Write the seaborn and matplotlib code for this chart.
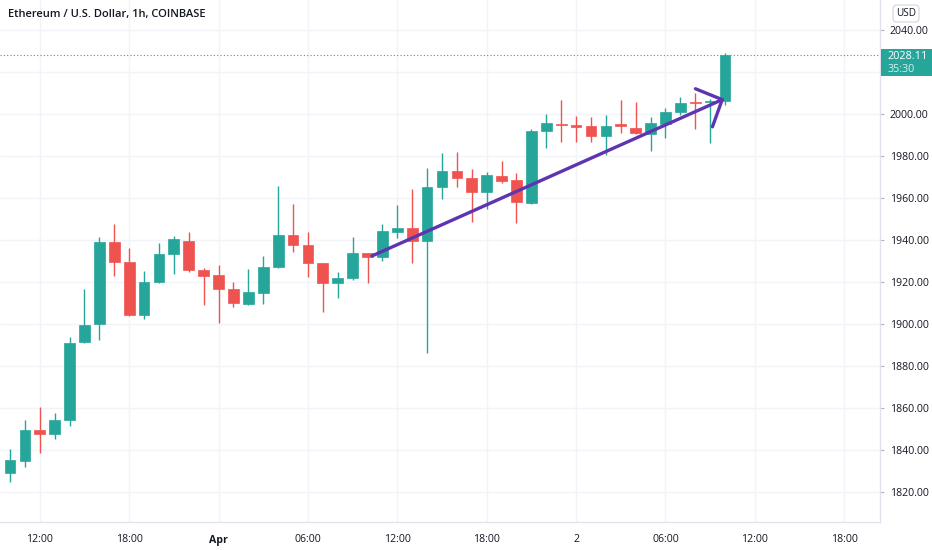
import numpy as np
import pandas as pd
import matplotlib
matplotlib.use("Agg")
import matplotlib.pyplot as plt
import seaborn as sns
from matplotlib.patches import FancyBboxPatch

# ---------------- data ----------------
title = "Ethereum / U.S. Dollar, 1h, COINBASE"
opens = [1829.2, 1834.9, 1849.5, 1847.6, 1854.3, 1891.3, 1899.9, 1939.2, 1929.7, 1904.3,
         1919.9, 1933.3, 1939.7, 1925.7, 1923.3, 1916.7, 1909.5, 1914.9, 1927.0, 1942.4,
         1937.6, 1928.9, 1919.4, 1921.9, 1933.8, 1932.0, 1943.8, 1945.9, 1939.7, 1965.1,
         1973.0, 1969.4, 1963.0, 1970.6, 1968.6, 1957.8, 1992.0, 1995.3, 1994.8, 1994.3,
         1989.7, 1995.1, 1993.2, 1990.5, 1995.2, 2001.1, 2005.7, 2005.6, 2006.2]
highs = [1840.3, 1854.3, 1860.6, 1857.5, 1893.7, 1916.5, 1941.3, 1947.6, 1936.0, 1925.4,
         1938.7, 1941.9, 1944.0, 1926.5, 1928.1, 1920.1, 1926.0, 1932.4, 1965.7, 1957.1,
         1943.7, 1929.0, 1924.9, 1941.3, 1934.0, 1947.6, 1956.7, 1964.3, 1974.1, 1981.6,
         1982.0, 1973.7, 1972.5, 1977.8, 1972.0, 1992.7, 2000.0, 2006.7, 1999.0, 1998.4,
         1999.5, 2006.7, 2005.7, 1998.7, 2002.7, 2008.0, 2009.9, 2007.0, 2028.9]
lows = [1824.9, 1831.8, 1838.7, 1845.1, 1851.6, 1891.0, 1892.4, 1923.0, 1904.0, 1902.2,
        1919.5, 1923.7, 1924.6, 1909.0, 1900.6, 1908.0, 1909.0, 1909.5, 1926.5, 1934.4,
        1922.5, 1905.9, 1912.5, 1921.0, 1919.7, 1930.1, 1941.0, 1928.9, 1886.0, 1959.4,
        1965.4, 1948.7, 1954.6, 1967.0, 1948.2, 1957.0, 1983.7, 1986.8, 1986.8, 1986.8,
        1980.5, 1991.1, 1990.5, 1982.5, 1988.4, 1999.5, 1992.7, 1986.0, 2004.3]
closes = [1835.2, 1849.5, 1847.6, 1854.3, 1891.1, 1899.5, 1939.2, 1929.7, 1904.3, 1919.9,
          1933.3, 1940.5, 1925.7, 1923.0, 1916.7, 1909.9, 1915.4, 1927.0, 1942.4, 1937.6,
          1928.9, 1919.4, 1921.9, 1933.9, 1931.8, 1944.3, 1945.9, 1939.7, 1965.1, 1973.0,
          1969.4, 1963.0, 1971.0, 1968.1, 1958.2, 1992.0, 1995.6, 1994.6, 1994.0, 1989.7,
          1994.4, 1994.3, 1990.8, 1995.6, 2001.1, 2005.4, 2005.2, 2006.2, 2028.11]
start_time = "2023-03-31 10:00"
x_tick_labels = ["12:00", "18:00", "Apr", "06:00", "12:00", "18:00", "2", "06:00", "12:00", "18:00"]
x_tick_hours = [2, 8, 14, 20, 26, 32, 38, 44, 50, 56]
y_ticks = [1820, 1840, 1860, 1880, 1900, 1920, 1940, 1960, 1980, 2000, 2040]
last_price = 2028.11
countdown = "35:30"
# arrow drawn on the chart (candle index, price)
arrow_start = (24.3, 1932.4)
arrow_end = (47.95, 2007.3)

df = pd.DataFrame({"o": opens, "h": highs, "l": lows, "c": closes})
df["idx"] = np.arange(len(df))
df["time"] = pd.date_range(start_time, periods=len(df), freq="h")
df["up"] = df["c"] >= df["o"]

GREEN = "#26a69a"
RED = "#ef5350"
PURPLE = "#5e35b1"
GRID = "#f2f4f9"
TEXT = "#131722"

sns.set_theme(style="white")
plt.rcParams["font.family"] = ["Open Sans", "DejaVu Sans"]

fig = plt.figure(figsize=(9.32, 5.5), dpi=100)
ax = fig.add_axes([0, 28 / 550, 880 / 932, 522 / 550])

xmin, xmax = -0.67, 58.4
ymin, ymax = 1805.7, 2054.3
ax.set_xlim(xmin, xmax)
ax.set_ylim(ymin, ymax)

# grid
for yt in y_ticks:
    ax.axhline(yt, color=GRID, lw=1, zorder=0)
ax.axhline(2020, color=GRID, lw=1, zorder=0)
for xt in x_tick_hours:
    ax.axvline(xt, color=GRID, lw=1, zorder=0)

colors = np.where(df["up"], GREEN, RED)
# wicks
ax.vlines(df["idx"], df["l"], df["h"], colors=colors, lw=1.0, zorder=2)
# bodies
body_bottom = np.minimum(df["o"], df["c"])
body_height = np.maximum(np.abs(df["c"] - df["o"]), 0.6)
ax.bar(df["idx"], body_height, bottom=body_bottom, width=0.72, color=colors,
       edgecolor=colors, linewidth=0.5, zorder=3)

# current price dotted line
sns.lineplot(x=[xmin, xmax], y=[last_price, last_price], ax=ax, color=GREEN,
             lw=0.8, linestyle=(0, (1, 2)), zorder=1)

# arrow
ax.annotate("", xy=arrow_end, xytext=arrow_start,
            arrowprops=dict(arrowstyle="->,head_length=1.2,head_width=1.25",
                            color=PURPLE, lw=2.4, shrinkA=0, shrinkB=0),
            zorder=5)

for s in ["top", "left"]:
    ax.spines[s].set_visible(False)
ax.spines["right"].set_color("#e0e3eb")
ax.spines["bottom"].set_color("#e0e3eb")
ax.spines["right"].set_linewidth(1)
ax.spines["bottom"].set_linewidth(1)

ax.yaxis.tick_right()
ax.set_yticks(y_ticks)
ax.set_yticklabels([f"{v:.2f}" for v in y_ticks], fontsize=7.6, color=TEXT)
ax.tick_params(axis="y", length=3, color="#b2b5be", pad=4, width=0.8)
ax.set_xticks(x_tick_hours)
ax.set_xticklabels(x_tick_labels, fontsize=7.6, color=TEXT)
for lbl in ax.get_xticklabels():
    if lbl.get_text() == "Apr":
        lbl.set_fontweight("bold")
ax.tick_params(axis="x", length=3, color="#b2b5be", pad=6, width=0.8)

# title
fig.text(8 / 932, 1 - 15 / 550, title, fontsize=8.0, color=TEXT,
         fontweight="semibold", va="center", ha="left")

# USD box
fig.text(906 / 932, 1 - 13.5 / 550, "USD", fontsize=7.2, color=TEXT, ha="center", va="center",
         bbox=dict(boxstyle="round,pad=0.3,rounding_size=0.4", fc="white", ec="#d1d4dc", lw=0.8))

# last price label box
box = FancyBboxPatch((881 / 932, 1 - 76 / 550), 51 / 932, 27 / 550,
                     boxstyle="square,pad=0", transform=fig.transFigure,
                     fc=GREEN, ec="none", zorder=10)
fig.patches.append(box)
fig.text(888 / 932, 1 - 56.5 / 550, f"{last_price:.2f}", fontsize=7.8, color="white",
         ha="left", va="center", zorder=11)
fig.text(888 / 932, 1 - 69 / 550, countdown, fontsize=7.8, color="#d6f0ed",
         ha="left", va="center", zorder=11)

fig.savefig("out.png", dpi=100, facecolor="white")
